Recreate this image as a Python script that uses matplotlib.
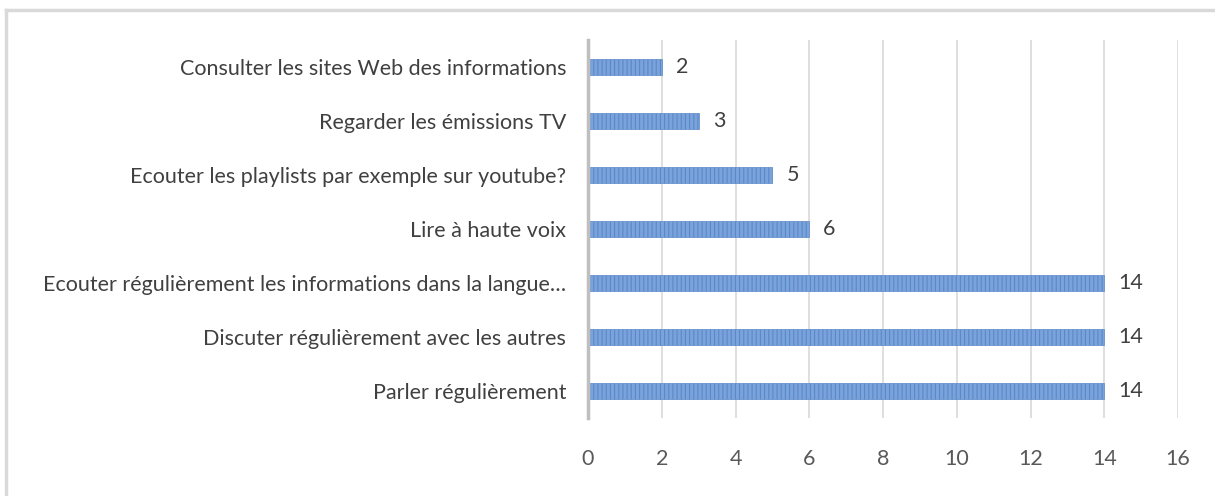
import matplotlib
matplotlib.use("Agg")
import matplotlib.pyplot as plt

categories = [
    "Parler régulièrement",
    "Discuter régulièrement avec les autres",
    "Ecouter régulièrement les informations dans la langue…",
    "Lire à haute voix",
    "Ecouter les playlists par exemple sur youtube?",
    "Regarder les émissions TV",
    "Consulter les sites Web des informations",
]
values = [14, 14, 14, 6, 5, 3, 2]
xticks = [0, 2, 4, 6, 8, 10, 12, 14, 16]

W, H = 1215, 496
fig = plt.figure(figsize=(W / 100, H / 100), dpi=100)
plt.rcParams['hatch.linewidth'] = 0.8
plt.rcParams['hatch.color'] = '#4a78bd'

# outer border (top and left only visible)
fig.add_artist(plt.Line2D([6 / W, 6 / W], [0, 1 - 10 / H], color='#d9d9d9', lw=2.5, transform=fig.transFigure))
fig.add_artist(plt.Line2D([6 / W, 1], [1 - 10 / H, 1 - 10 / H], color='#d9d9d9', lw=2.5, transform=fig.transFigure))

left, right = 588, 1178
top, bottom = 40, 418
ax = fig.add_axes([left / W, 1 - bottom / H, (right - left) / W, (bottom - top) / H])

FS = 15.5
ypos = list(range(len(categories)))
ax.barh(ypos, values, height=0.3, color='#7aa3dc', edgecolor='#5b88c8',
        hatch='||||', linewidth=0.5, zorder=3)
for y, v in zip(ypos, values):
    ax.text(v + 0.38, y, str(v), va='center', ha='left', fontsize=FS,
            color='#404040', family='Lato')

ax.set_xlim(0, 16)
ax.set_ylim(-0.5, len(categories) - 0.5)
ax.set_xticks(xticks)
ax.set_xticklabels([str(t) for t in xticks], fontsize=FS, color='#595959', family='Lato')
ax.set_yticks(ypos)
ax.set_yticklabels(categories, fontsize=FS, color='#404040', family='Lato')
ax.tick_params(axis='both', length=0)
ax.tick_params(axis='x', pad=22)
ax.tick_params(axis='y', pad=15.8)
ax.grid(axis='x', color='#d9d9d9', lw=1.2, zorder=0)
for s in ['top', 'right', 'bottom']:
    ax.spines[s].set_visible(False)
ax.spines['left'].set_color('#bfbfbf')
ax.spines['left'].set_linewidth(2.5)
ax.spines['left'].set_zorder(4)

fig.savefig("out.png", dpi=100)
